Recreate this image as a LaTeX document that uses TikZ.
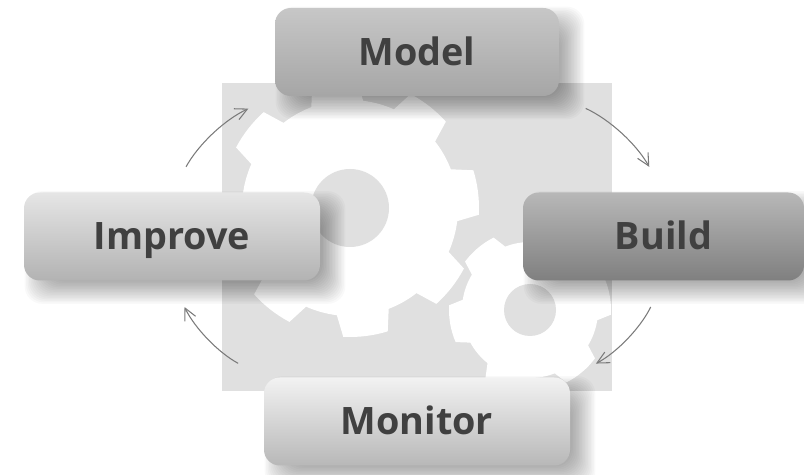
\documentclass[tikz,border=0pt]{standalone}
\usepackage{fontspec}
\setmainfont{Open Sans}
\usetikzlibrary{arrows.meta, backgrounds}
\definecolor{panelgray}{HTML}{E0E0E0}
\definecolor{labelgray}{HTML}{404040}
\definecolor{flowgray}{HTML}{7A7A7A}
% center, teeth, first tooth angle, tip radius, root radius
\newcommand{\gearfill}[5]{%
  \fill[white, shift={#1}] (#3-112/#2:#5)
    \foreach \k [evaluate=\k as \a using #3+\k*360/#2] in {0,...,\numexpr#2-1\relax} {
      -- (\a-112/#2:#5) -- (\a-80/#2:#4) arc[start angle=\a-80/#2, end angle=\a+80/#2, radius=#4]
      -- (\a+112/#2:#5) arc[start angle=\a+112/#2, end angle=\a+248/#2, radius=#5]
    } -- cycle;}
\begin{document}
\begin{tikzpicture}[
  stage/.style={rectangle, rounded corners=9pt, minimum width=5.68cm, minimum height=1.76cm, align=center, font=\fontsize{21.5}{26}\selectfont\bfseries, text=labelgray, text height=0.54cm, text depth=0pt},
  flow/.style={-{Straight Barb[length=2.4mm, width=2.4mm]}, draw=flowgray, line width=0.6pt, shorten <=0.58cm, shorten >=0.58cm}
]
  \useasboundingbox (0, 0) rectangle (16.08, 9.5);

  % Stages
  \node[stage, top color=black!22, bottom color=black!35] (model) at (8.34, 8.46) {Model};
  \node[stage, minimum width=5.62cm, top color=black!28, bottom color=black!50] (build) at (13.27, 4.77) {Build};
  \node[stage, minimum width=5.92cm, top color=black!10, bottom color=black!30] (improve) at (3.44, 4.77) {Improve};
  \node[stage, minimum width=6.12cm, top color=black!5, bottom color=black!28] (monitor) at (8.34, 1.07) {Monitor};

  % Panel, gears and shadows
  \begin{scope}[on background layer]
    \fill[panelgray] (4.44, 1.68) rectangle (12.24, 7.84);
    \gearfill{(7, 5.34)}{8}{7}{2.58}{2.16}
    \fill[panelgray] (7, 5.34) circle (0.78);
    \gearfill{(10.6, 3.3)}{6}{10}{1.62}{1.36}
    \fill[panelgray] (10.6, 3.3) circle (0.52);
    \foreach \n in {model, build, improve, monitor} {
      \foreach \g in {-0.24, -0.21, ..., 0.25} {
        \fill[black, opacity=0.025, rounded corners=10pt]
          ([shift={(0.26-\g, -0.22-\g)}]\n.south west) rectangle ([shift={(0.26+\g, -0.22+\g)}]\n.north east);
      }
    }
  \end{scope}

  % Flow
  \draw[flow] (model.south east) to[bend left=18] (build.north);
  \draw[flow] (build.south) to[bend left=18] (monitor.north east);
  \draw[flow] (monitor.north west) to[bend left=18] (improve.south);
  \draw[flow] (improve.north) to[bend left=18] (model.south west);
\end{tikzpicture}
\end{document}
